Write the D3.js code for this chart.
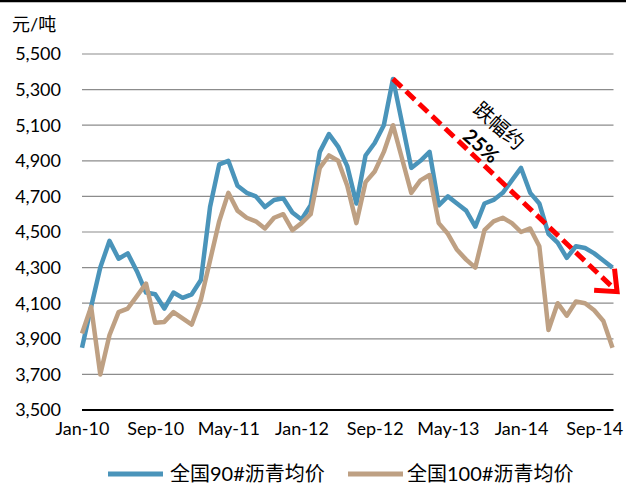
<!DOCTYPE html>
<html><head><meta charset="utf-8">
<script src="https://cdn.jsdelivr.net/npm/d3@7"></script>
<style>html,body{margin:0;padding:0;background:#fff;}svg{display:block;}</style>
</head><body>
<svg id="c" width="626" height="486"></svg>
<script>
const months = ["Jan-10","Feb-10","Mar-10","Apr-10","May-10","Jun-10","Jul-10","Aug-10","Sep-10","Oct-10","Nov-10","Dec-10",
"Jan-11","Feb-11","Mar-11","Apr-11","May-11","Jun-11","Jul-11","Aug-11","Sep-11","Oct-11","Nov-11","Dec-11",
"Jan-12","Feb-12","Mar-12","Apr-12","May-12","Jun-12","Jul-12","Aug-12","Sep-12","Oct-12","Nov-12","Dec-12",
"Jan-13","Feb-13","Mar-13","Apr-13","May-13","Jun-13","Jul-13","Aug-13","Sep-13","Oct-13","Nov-13","Dec-13",
"Jan-14","Feb-14","Mar-14","Apr-14","May-14","Jun-14","Jul-14","Aug-14","Sep-14","Oct-14","Nov-14"];
const price90 = [3850,4080,4300,4450,4350,4380,4280,4160,4150,4070,4160,4130,
4150,4230,4640,4880,4900,4760,4720,4700,4640,4680,4690,4610,
4570,4650,4950,5050,4980,4870,4660,4930,5000,5100,5360,5110,
4860,4900,4950,4650,4700,4660,4620,4530,4660,4680,4720,4790,
4860,4720,4660,4490,4440,4355,4420,4410,4380,4340,4300];
const price100 = [3930,4080,3700,3920,4050,4070,4140,4210,3990,3995,4050,4015,
3980,4120,4340,4560,4720,4620,4580,4560,4520,4580,4600,4510,
4550,4600,4860,4930,4900,4760,4550,4780,4840,4950,5100,4910,
4720,4790,4820,4550,4490,4400,4345,4300,4510,4560,4580,4550,
4500,4520,4420,3950,4100,4030,4110,4100,4060,4000,3850];
const xTicks = ["Jan-10","Sep-10","May-11","Jan-12","Sep-12","May-13","Jan-14","Sep-14"];
const yTicks = [3500,3700,3900,4100,4300,4500,4700,4900,5100,5300,5500];
const seriesNames = ["全国90#沥青均价","全国100#沥青均价"];
const colors = ["#4A94BA","#BEA083"];
const unitLabel = "元/吨";
const arrowStart = {i:34, v:5360};
const arrowEnd = {i:58.5, v:4165};
const annoText1 = "跌幅约", annoText2 = "25%";

const svg = d3.select("#c");
const FONT = "Lato, 'Noto Sans CJK SC', sans-serif";
const L = 82, R = 612.5, T = 54, B = 410;
const x = d3.scalePoint().domain(months).range([L, R]);
const xi = d3.scaleLinear().domain([0, months.length-1]).range([L, R]);
const y = d3.scaleLinear().domain([3500,5500]).range([B, T]);

// top border
svg.append("line").attr("x1",0).attr("x2",626).attr("y1",1).attr("y2",1).attr("stroke","#000").attr("stroke-width",2.5);

// gridlines
svg.append("g").selectAll("line").data(yTicks.slice(1)).join("line")
  .attr("x1",L).attr("x2",R+1).attr("y1",d=>y(d)).attr("y2",d=>y(d))
  .attr("stroke","#8c8c8c").attr("stroke-width",1.2);

// y labels
svg.append("g").selectAll("text").data(yTicks).join("text")
  .attr("x",61).attr("y",d=>y(d)).attr("dy","0.36em").attr("text-anchor","end")
  .attr("font-family",FONT).attr("font-size",18).attr("fill","#000")
  .text(d=>d3.format(",")(d));

svg.append("text").attr("x",12).attr("y",31).attr("font-family",FONT).attr("font-size",18).text(unitLabel);

// x axis
const xAxis = d3.axisBottom(x).tickValues(xTicks).tickSize(0).tickPadding(12);
const gx = svg.append("g").attr("transform",`translate(0,${B})`).call(xAxis);
gx.select(".domain").remove();
gx.selectAll("text").attr("font-family",FONT).attr("font-size",18).attr("fill","#000");
svg.append("line").attr("x1",L).attr("x2",R+1).attr("y1",B).attr("y2",B).attr("stroke","#000").attr("stroke-width",2.2);

// lines
const line = d3.line().x((d,i)=>x(months[i])).y(d=>y(d));
[price90, price100].forEach((s,k)=>{
  svg.append("path").datum(s).attr("d",line).attr("fill","none")
    .attr("stroke",colors[k]).attr("stroke-width",4.5)
    .attr("stroke-linejoin","round").attr("stroke-linecap","butt");
});

// red arrow
const x1 = xi(arrowStart.i), y1 = y(arrowStart.v), x2 = xi(arrowEnd.i), y2 = y(arrowEnd.v);
svg.append("line").attr("x1",x1).attr("y1",y1).attr("x2",x2-3).attr("y2",y2-3)
  .attr("stroke","#FF0000").attr("stroke-width",5).attr("stroke-dasharray","12,6");
const ang = Math.atan2(y2-y1, x2-x1);
const wl = 23, wa = 0.7;
const w1 = [x2 - wl*Math.cos(ang-wa), y2 - wl*Math.sin(ang-wa)];
const w2 = [x2 - wl*Math.cos(ang+wa), y2 - wl*Math.sin(ang+wa)];
svg.append("path").attr("d",`M${w1[0]},${w1[1]}L${x2},${y2}L${w2[0]},${w2[1]}`)
  .attr("fill","none").attr("stroke","#FF0000").attr("stroke-width",5).attr("stroke-linejoin","miter");

const deg = ang*180/Math.PI - 2;
svg.append("text").attr("transform",`translate(499,126) rotate(${deg})`)
  .attr("text-anchor","middle").attr("dy","0.35em").attr("font-family",FONT).attr("font-size",20).text(annoText1);
svg.append("text").attr("transform",`translate(481,146) rotate(${deg})`)
  .attr("text-anchor","middle").attr("dy","0.35em").attr("font-family",FONT).attr("font-size",20).attr("font-weight","bold").text(annoText2);

// legend
const lg = [{x:108, tx:170},{x:348, tx:407}];
lg.forEach((p,k)=>{
  svg.append("line").attr("x1",p.x).attr("x2",p.x+55).attr("y1",474).attr("y2",474)
    .attr("stroke",colors[k]).attr("stroke-width",5);
  svg.append("text").attr("x",p.tx).attr("y",474).attr("dy","0.36em")
    .attr("font-family",FONT).attr("font-size",20).text(seriesNames[k]);
});
</script>
</body></html>
